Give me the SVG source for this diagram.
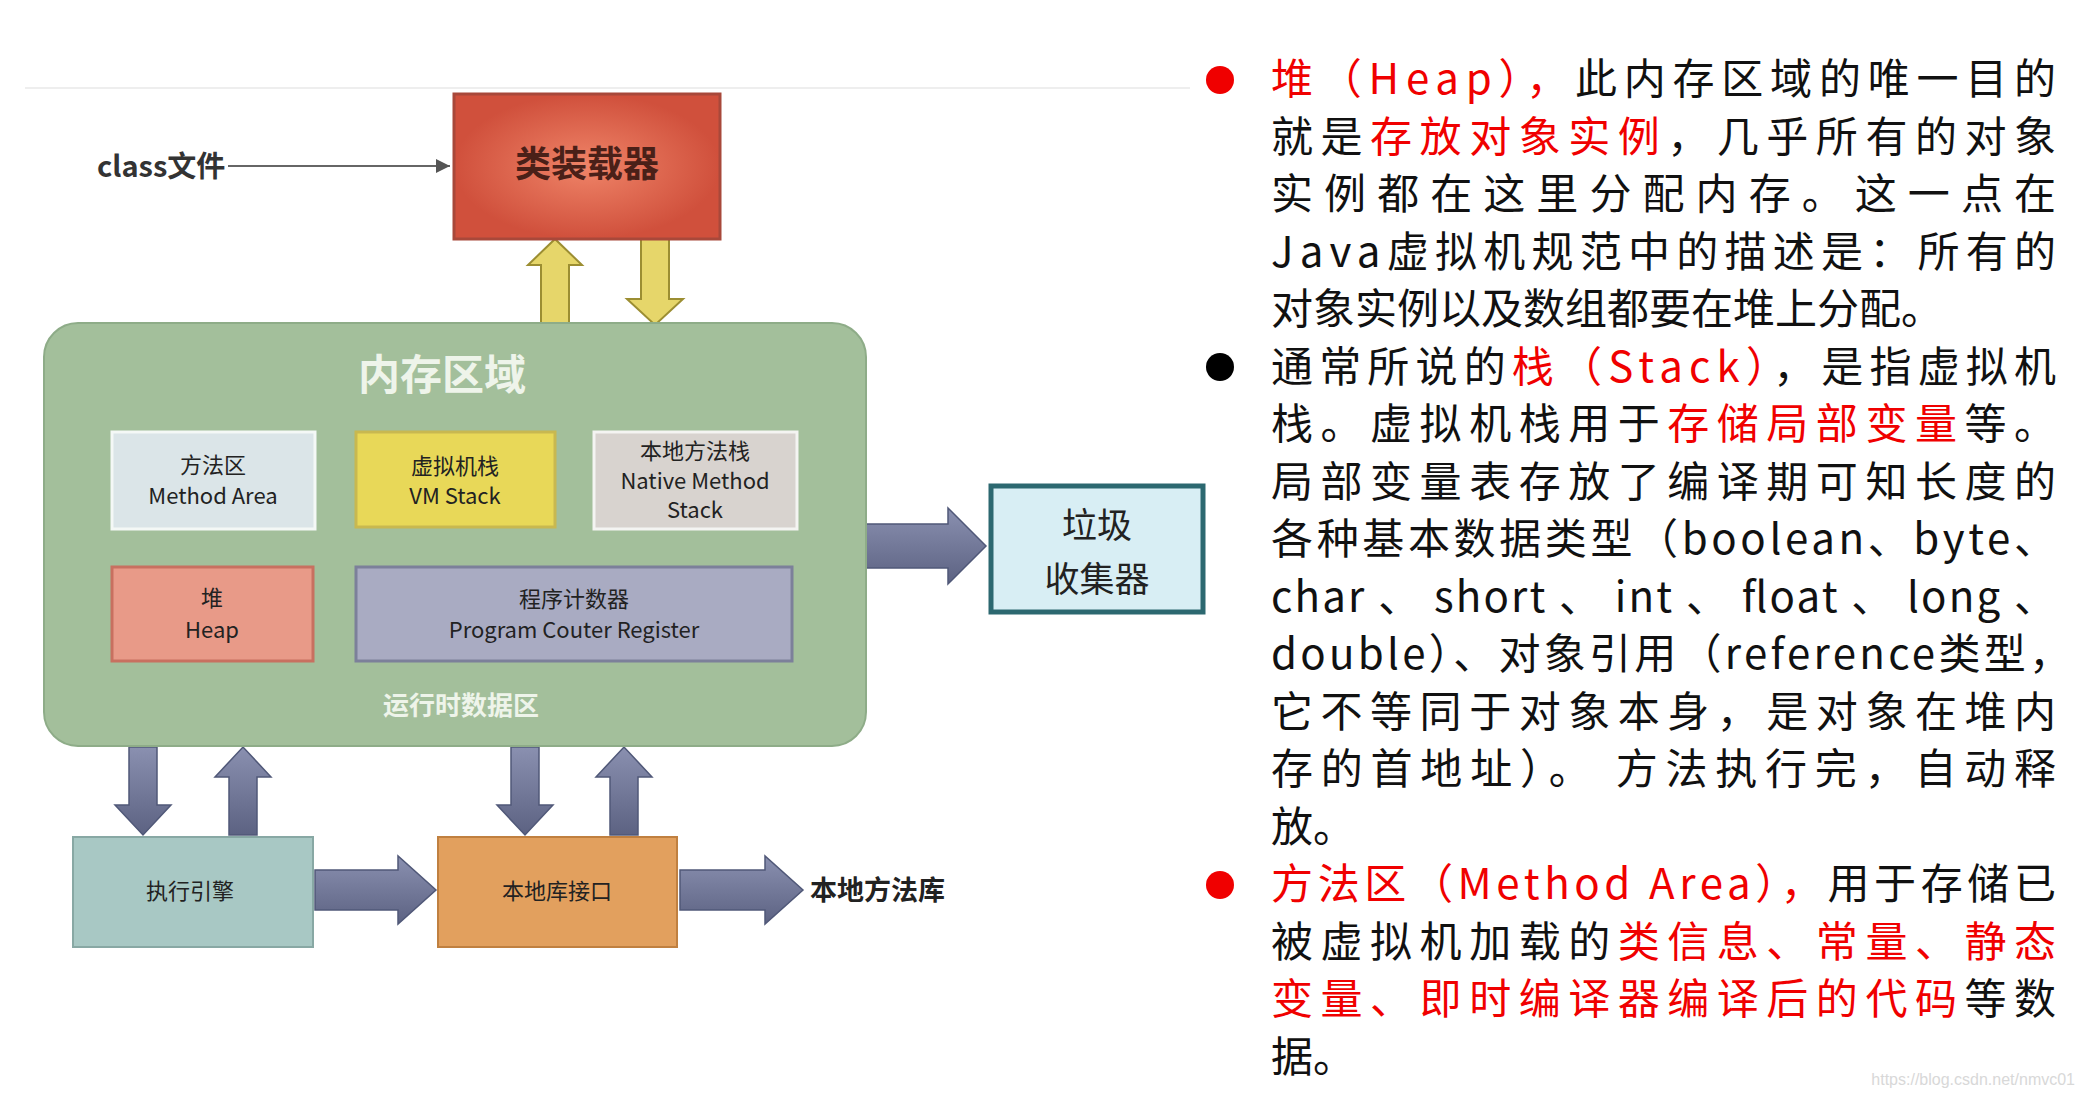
<svg xmlns="http://www.w3.org/2000/svg" width="2083" height="1097" viewBox="0 0 2083 1097">
<style>
.cn{font-family:"Noto Sans CJK SC","Liberation Sans",sans-serif}
.t{font-family:"Noto Sans CJK SC",sans-serif;font-size:42px;fill:#111}
.r{fill:#f00000}
.box{stroke-width:3}
.lbl{font-family:"Noto Sans CJK SC","Liberation Sans",sans-serif;font-size:22px;fill:#222;text-anchor:middle}
.ba{fill:url(#blu);stroke:#505878;stroke-width:1.5}
.ya{fill:#e6d66a;stroke:#9c8e32;stroke-width:2}
</style>
<defs>
<radialGradient id="red"><stop offset="0" stop-color="#ef8468"/><stop offset="1" stop-color="#d0503c"/></radialGradient>
<linearGradient id="blu" x1="0" y1="0" x2="0" y2="1"><stop offset="0" stop-color="#8a90b0"/><stop offset="1" stop-color="#5c6282"/></linearGradient>
<marker id="ah" viewBox="0 0 10 10" refX="10" refY="5" markerWidth="7" markerHeight="7" orient="auto"><path d="M0,0 L10,5 L0,10z" fill="#555"/></marker>
</defs>
<rect width="2083" height="1097" fill="#fff"/>
<line x1="25" y1="88" x2="1190" y2="88" stroke="#eee" stroke-width="2"/>
<g id="connectors">
<line x1="228" y1="166" x2="450" y2="166" stroke="#666" stroke-width="2" marker-end="url(#ah)"/>
<polygon class="ya" points="541,325 569,325 569,265 582,265 555,239 528,265 541,265"/>
<polygon class="ya" points="641,239 669,239 669,299 683,299 655,325 627,299 641,299"/>
<polygon class="ba" points="866,524 948,524 948,508 986,546 948,584 948,568 866,568"/>
<polygon class="ba" points="129,747 157,747 157,805 171,805 143,835 115,805 129,805"/>
<polygon class="ba" points="229,835 257,835 257,777 271,777 243,747 215,777 229,777"/>
<polygon class="ba" points="511,747 539,747 539,805 553,805 525,835 497,805 511,805"/>
<polygon class="ba" points="610,835 638,835 638,777 652,777 624,747 596,777 610,777"/>
<polygon class="ba" points="315,870 398,870 398,856 436,890 398,924 398,910 315,910"/>
<polygon class="ba" points="680,870 765,870 765,856 803,890 765,924 765,910 680,910"/>
</g>
<g id="class-file"><text x="97" y="177" class="cn" font-size="29" font-weight="bold" fill="#333">class文件</text></g>
<g id="class-loader"><rect x="454" y="94" width="266" height="145" fill="url(#red)" stroke="#a8483a" stroke-width="3"/><text x="587" y="177" class="cn" font-size="36" font-weight="bold" fill="#4a2018" text-anchor="middle">类装载器</text></g>
<g id="memory"><rect x="44" y="323" width="822" height="423" rx="34" fill="#a3bf9b" stroke="#8eac88" stroke-width="2"/>
<text x="442" y="390" class="cn" font-size="42" font-weight="bold" fill="#eef4ea" text-anchor="middle">内存区域</text>
<text x="461" y="715" class="cn" font-size="26" font-weight="bold" fill="#eef4ea" text-anchor="middle">运行时数据区</text></g>
<g id="method-area"><rect x="112" y="432" width="203" height="97" fill="#dbe5e8" stroke="#f4f8f6" class="box"/><text class="lbl" x="213" y="473">方法区</text><text class="lbl" x="213" y="504">Method Area</text></g>
<g id="vm-stack"><rect x="356" y="432" width="199" height="95" fill="#e8d858" stroke="#c8b850" class="box"/><text class="lbl" x="455" y="474">虚拟机栈</text><text class="lbl" x="455" y="504">VM Stack</text></g>
<g id="native-stack"><rect x="594" y="432" width="203" height="97" fill="#d8d3cf" stroke="#f4f4f2" class="box"/><text class="lbl" x="695" y="459" font-size="21">本地方法栈</text><text class="lbl" x="695" y="489" font-size="21">Native Method</text><text class="lbl" x="695" y="518" font-size="21">Stack</text></g>
<g id="heap"><rect x="112" y="567" width="201" height="94" fill="#e89a88" stroke="#c87060" class="box"/><text class="lbl" x="212" y="606">堆</text><text class="lbl" x="212" y="638">Heap</text></g>
<g id="pc"><rect x="356" y="567" width="436" height="94" fill="#a9abc2" stroke="#7c809a" class="box"/><text class="lbl" x="574" y="607">程序计数器</text><text class="lbl" x="574" y="638">Program Couter Register</text></g>
<g id="gc"><rect x="991" y="486" width="212" height="126" fill="#d8eef4" stroke="#2c6870" stroke-width="5"/><text x="1097" y="538" class="cn" font-size="35" fill="#222" text-anchor="middle">垃圾</text><text x="1097" y="592" class="cn" font-size="35" fill="#222" text-anchor="middle">收集器</text></g>
<g id="exec"><rect x="73" y="837" width="240" height="110" fill="#a8c8c4" stroke="#88a8a4" stroke-width="2"/><text class="lbl" x="190" y="899">执行引擎</text></g>
<g id="native-if"><rect x="438" y="837" width="239" height="110" fill="#e2a05e" stroke="#c08040" stroke-width="2"/><text class="lbl" x="557" y="899">本地库接口</text></g>
<g id="native-lib"><text x="810" y="900" class="cn" font-size="27" font-weight="bold" fill="#222">本地方法库</text></g>
<g id="text">
<circle cx="1220" cy="80" r="14" fill="#f00000"/>
<circle cx="1220" cy="367" r="14" fill="#000"/>
<circle cx="1220" cy="885" r="14" fill="#f00000"/>
<text class="t" x="1271" y="94" textLength="785" lengthAdjust="spacing"><tspan class="r">堆（Heap），</tspan>此内存区域的唯一目的</text>
<text class="t" x="1271" y="152" textLength="785" lengthAdjust="spacing">就是<tspan class="r">存放对象实例</tspan>，几乎所有的对象</text>
<text class="t" x="1271" y="209" textLength="785" lengthAdjust="spacing">实例都在这里分配内存。这一点在</text>
<text class="t" x="1271" y="267" textLength="785" lengthAdjust="spacing">Java虚拟机规范中的描述是：所有的</text>
<text class="t" x="1271" y="324">对象实例以及数组都要在堆上分配。</text>
<text class="t" x="1271" y="382" textLength="785" lengthAdjust="spacing">通常所说的<tspan class="r">栈（Stack）</tspan>，是指虚拟机</text>
<text class="t" x="1271" y="439" textLength="785" lengthAdjust="spacing">栈。虚拟机栈用于<tspan class="r">存储局部变量</tspan>等。</text>
<text class="t" x="1271" y="497" textLength="785" lengthAdjust="spacing">局部变量表存放了编译期可知长度的</text>
<text class="t" x="1271" y="554" textLength="785" lengthAdjust="spacing">各种基本数据类型（boolean、byte、</text>
<text class="t" x="1271" y="612" textLength="785" lengthAdjust="spacing">char 、 short 、 int 、 float 、 long 、</text>
<text class="t" x="1271" y="669" textLength="800" lengthAdjust="spacing">double）、对象引用（reference类型，</text>
<text class="t" x="1271" y="727" textLength="785" lengthAdjust="spacing">它不等同于对象本身，是对象在堆内</text>
<text class="t" x="1271" y="784" textLength="785" lengthAdjust="spacing">存的首地址）。 方法执行完，自动释</text>
<text class="t" x="1271" y="842">放。</text>
<text class="t" x="1271" y="899" textLength="785" lengthAdjust="spacing"><tspan class="r">方法区（Method Area），</tspan>用于存储已</text>
<text class="t" x="1271" y="957" textLength="785" lengthAdjust="spacing">被虚拟机加载的<tspan class="r">类信息、常量、静态</tspan></text>
<text class="t" x="1271" y="1014" textLength="785" lengthAdjust="spacing"><tspan class="r">变量、即时编译器编译后的代码</tspan>等数</text>
<text class="t" x="1271" y="1072">据。</text>
<text x="2075" y="1085" font-family="Liberation Sans,sans-serif" font-size="16" fill="#d8d8d8" text-anchor="end">https://blog.csdn.net/nmvc01</text>
</g>
</svg>
